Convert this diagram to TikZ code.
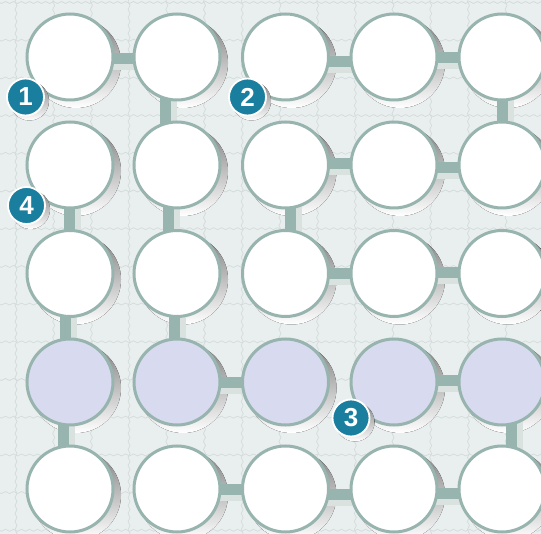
\documentclass[tikz,border=0pt]{standalone}
\usepackage{fontspec}
\setmainfont{Liberation Sans}
\usetikzlibrary{decorations.pathmorphing}

\definecolor{paper}{HTML}{E9EEEE}
\definecolor{tileline}{HTML}{D4DBDB}
\definecolor{ring}{HTML}{98B4AF}
\definecolor{shade}{HTML}{DAE2E0}
\definecolor{lavender}{HTML}{D8DBEF}
\definecolor{badgeblue}{HTML}{1A7F9E}

\pgfdeclarelayer{back}
\pgfdeclarelayer{under}
\pgfdeclarelayer{top}
\pgfsetlayers{back,under,main,top}

\tikzset{
  cell/.style={circle, draw=ring, line width=3pt, fill=white, minimum size=86pt, inner sep=0pt},
  row4/.style={fill=lavender},
  link/.style={draw=ring, line width=11pt},
  linkshade/.style={draw=shade, line width=11pt},
  tile/.style={draw=tileline, line width=0.7pt, decorate, decoration={snake, amplitude=1pt, segment length=8pt}},
  badge/.style={circle, draw=white, line width=1.8pt, fill=badgeblue, text=white, minimum size=37pt, inner sep=0pt, font=\bfseries\fontsize{26}{26}\selectfont}
}

\begin{document}
\begin{tikzpicture}[x=1pt, y=-1pt]
    \useasboundingbox (0,0) rectangle (541,534);
    \clip (0,0) rectangle (541,534);

    % Grid of cells
    \foreach \y [count=\r] in {57,165,273.5,382,489}
      \foreach \x [count=\c] in {70,177,285.5,394,502}
        \node[cell, row\r/.try] (c\r\c) at (\x,\y) {};

    % Markers
    \begin{pgfonlayer}{top}
      \node[badge] (b1) at (25.5,97) {1};
      \node[badge] (b2) at (247.5,97) {2};
      \node[badge] (b3) at (351,418) {3};
      \node[badge] (b4) at (26.5,205.5) {4};
    \end{pgfonlayer}
    \foreach \b in {b1,b2,b3,b4} \fill[shade] ([shift={(4,4)}]\b.center) circle (19.5);

    % Paper, tiles and shadows
    \begin{pgfonlayer}{back}
      \fill[paper] (0,0) rectangle (541,534);
      \foreach \k in {0,...,14} {
        \draw[tile] (16+37.7*\k, -5) -- (16+37.7*\k, 540);
        \draw[tile] (-5, 2.5+37.7*\k) -- (546, 2.5+37.7*\k);
      }
      \foreach \r in {1,...,5}
        \foreach \c in {1,...,5} \fill[shade] ([shift={(6,6)}]c\r\c.center) circle (45);
    \end{pgfonlayer}

    % Links between cells
    \begin{pgfonlayer}{under}
      % across
      \foreach \a/\b/\d in {c11/c12/-1.5, c13/c14/-5, c14/c15/-0.5, c23/c24/1.5, c24/c25/-3, c33/c34/-0.5, c34/c35/1, c42/c43/-1, c44/c45/1, c52/c53/0, c53/c54/-5, c54/c55/-4.5} {
        \draw[linkshade] ([shift={({6},{6-(\d)})}]\a.center) -- ([shift={({6},{6-(\d)})}]\b.center);
        \draw[link] ([yshift=\d pt]\a.center) -- ([yshift=\d pt]\b.center);
      }
      % down
      \foreach \a/\b/\d in {c12/c22/-12, c15/c25/0, c21/c31/-1, c22/c32/-8.5, c23/c33/4.5, c31/c41/-5, c32/c42/-3, c41/c51/-7, c45/c55/9} {
        \draw[linkshade] ([shift={({6+(\d)},{6})}]\a.center) -- ([shift={({6+(\d)},{6})}]\b.center);
        \draw[link] ([xshift=\d pt]\a.center) -- ([xshift=\d pt]\b.center);
      }
    \end{pgfonlayer}
\end{tikzpicture}
\end{document}
